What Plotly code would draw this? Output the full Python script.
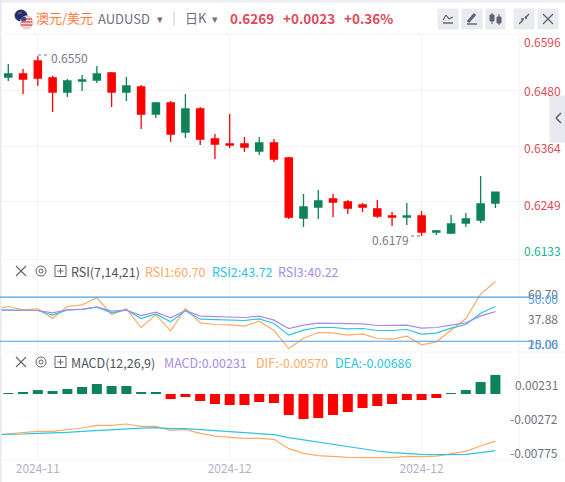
import plotly.graph_objects as go

W, H = 565, 482

# ---------------------------------------------------------------------------
# Data
# ---------------------------------------------------------------------------
OPEN = [0.65071, 0.65133, 0.65402, 0.65051, 0.64761, 0.64989, 0.65009, 0.65154, 0.64761, 0.64864,
        0.64306, 0.64534, 0.63934, 0.64410, 0.63790, 0.63686, 0.63686, 0.63542, 0.63707, 0.63397,
        0.62157, 0.62384, 0.62549, 0.62487, 0.62425, 0.62343, 0.62198, 0.62177, 0.62198, 0.61867,
        0.61847, 0.62053, 0.62115, 0.62467]
HIGH = [0.65340, 0.65237, 0.65500, 0.65092, 0.65030, 0.65113, 0.65299, 0.65175, 0.65071, 0.64906,
        0.64554, 0.64575, 0.64720, 0.64451, 0.63893, 0.64306, 0.63831, 0.63831, 0.63790, 0.63418,
        0.62653, 0.62735, 0.62653, 0.62529, 0.62467, 0.62529, 0.62281, 0.62467, 0.62301, 0.61909,
        0.62219, 0.62260, 0.63025, 0.62700]
LOW = [0.64989, 0.64720, 0.64885, 0.64348, 0.64658, 0.64782, 0.64947, 0.64451, 0.64575, 0.63996,
       0.64224, 0.63728, 0.63810, 0.63666, 0.63376, 0.63604, 0.63521, 0.63459, 0.63314, 0.62136,
       0.61971, 0.62136, 0.62177, 0.62239, 0.62281, 0.62157, 0.61991, 0.62012, 0.61785, 0.61805,
       0.61826, 0.61971, 0.62053, 0.62363]
CLOSE = [0.65133, 0.65030, 0.65051, 0.64761, 0.64989, 0.65009, 0.65133, 0.64761, 0.64885, 0.64306,
         0.64534, 0.63893, 0.64410, 0.63790, 0.63686, 0.63666, 0.63624, 0.63707, 0.63376, 0.62177,
         0.62384, 0.62508, 0.62487, 0.62363, 0.62384, 0.62198, 0.62177, 0.62198, 0.61867, 0.61888,
         0.62033, 0.62136, 0.62446, 0.62690]

# the indicator lines start one session before the first visible candle
RSI1 = [41.63, 43.67, 41.40, 42.08, 35.49, 43.67, 44.81, 49.58, 38.22, 42.08, 29.36, 37.99, 27.09,
        42.31, 32.54, 31.41, 31.18, 30.27, 33.68, 27.32, 15.06, 22.10, 25.96, 25.73, 24.14, 25.05,
        21.87, 21.42, 23.46, 17.55, 19.60, 27.77, 35.49, 52.07, 60.70]
RSI2 = [41.40, 41.40, 40.95, 40.95, 37.77, 41.40, 41.63, 43.22, 39.36, 41.40, 35.49, 38.67, 33.22,
        40.72, 35.04, 34.59, 34.36, 34.13, 35.27, 32.09, 24.14, 27.55, 29.36, 29.36, 28.46, 28.68,
        27.32, 27.32, 28.00, 24.82, 25.50, 28.91, 31.41, 39.13, 43.72]
RSI3 = [41.17, 41.17, 40.72, 40.95, 39.36, 41.40, 41.85, 43.44, 40.49, 41.17, 37.54, 39.81, 35.95,
        40.95, 37.08, 36.63, 36.40, 36.18, 37.08, 34.36, 28.68, 30.95, 32.32, 32.09, 31.63, 31.86,
        30.73, 30.73, 30.95, 28.91, 29.36, 30.95, 32.54, 37.31, 40.22]

HIST = [0.00004, 0.00024, 0.00048, 0.00036, 0.00061, 0.00085, 0.00121, 0.00097, 0.00097, 0.00024,
        0.00024, -0.00061, -0.00036, -0.00085, -0.00121, -0.00133, -0.00133, -0.00097, -0.00109,
        -0.00254, -0.00303, -0.00291, -0.00254, -0.00218, -0.00170, -0.00145, -0.00121, -0.00073,
        -0.00073, -0.00048, 0.00004, 0.00048, 0.00145, 0.00231]
DIF = [-0.00500, -0.00484, -0.00468, -0.00452, -0.00452, -0.00432, -0.00412, -0.00379, -0.00379,
       -0.00363, -0.00391, -0.00391, -0.00440, -0.00428, -0.00476, -0.00509, -0.00525, -0.00537,
       -0.00537, -0.00549, -0.00662, -0.00718, -0.00747, -0.00759, -0.00767, -0.00771, -0.00775,
       -0.00771, -0.00755, -0.00759, -0.00751, -0.00726, -0.00694, -0.00630, -0.00570]
DEA = [-0.00492, -0.00492, -0.00484, -0.00476, -0.00472, -0.00464, -0.00452, -0.00440, -0.00428,
       -0.00416, -0.00412, -0.00408, -0.00420, -0.00420, -0.00432, -0.00444, -0.00456, -0.00468,
       -0.00480, -0.00492, -0.00529, -0.00557, -0.00585, -0.00613, -0.00642, -0.00670, -0.00690,
       -0.00710, -0.00722, -0.00731, -0.00735, -0.00735, -0.00731, -0.00710, -0.00686]

SESSIONS = list(range(34))
LINE_SESSIONS = list(range(-1, 34))

PRICE_TICKS = [0.6596, 0.6480, 0.6364, 0.6249, 0.6133]
PRICE_LABELS = ["0.6596", "0.6480", "0.6364", "0.6249", "0.6133"]
DATE_TICKS = [2, 15, 28]
DATE_LABELS = ["2024-11", "2024-12", "2024-12"]
RSI_LEVELS = [50, 20]

# ---------------------------------------------------------------------------
# Palette
# ---------------------------------------------------------------------------
UP = "#0f8358"
DOWN = "#ff0000"
ORANGE = "#ffaa66"
CYAN = "#2cc5e0"
PURPLE = "#a88ce8"
LEVEL = "#4a9fe8"
GRID = "#f3f4f8"
TICK = "#6f7280"
RED_TEXT = "#dd4a5a"
BTN = "#e9ebf0"
ICON = "#5f6370"
FONT = "Noto Sans CJK SC, Noto Sans, sans-serif"

fig = go.Figure()


def px(x):
    return x / W


def py(y):
    return 1 - y / H


def label(x, y, text, color=TICK, size=12, anchor="left", bold=False):
    if bold:
        text = f"<b>{text}</b>"
    fig.add_annotation(xref="paper", yref="paper", x=px(x), y=py(y), text=text, showarrow=False,
                       xanchor=anchor, yanchor="middle", xshift=0, borderpad=0,
                       font=dict(color=color, size=size, family=FONT))


def seg(x0, y0, x1, y1, color=ICON, width=1.3, dash=None):
    fig.add_shape(type="line", xref="paper", yref="paper", x0=px(x0), y0=py(y0), x1=px(x1), y1=py(y1),
                  line=dict(color=color, width=width, dash=dash), layer="above")


def box(x0, y0, x1, y1, fill, line=None, kind="rect"):
    fig.add_shape(type=kind, xref="paper", yref="paper", x0=px(x0), y0=py(y0), x1=px(x1), y1=py(y1),
                  fillcolor=fill, line=dict(color=line or fill, width=1), layer="above")


# ---------------------------------------------------------------------------
# Traces
# ---------------------------------------------------------------------------
fig.add_trace(go.Candlestick(
    x=SESSIONS, open=OPEN, high=HIGH, low=LOW, close=CLOSE,
    increasing=dict(line=dict(color=UP, width=1.3), fillcolor=UP),
    decreasing=dict(line=dict(color=DOWN, width=1.3), fillcolor=DOWN),
    whiskerwidth=0, xaxis="x", yaxis="y", showlegend=False,
))
for values, color in [(RSI1, ORANGE), (RSI2, CYAN), (RSI3, PURPLE)]:
    fig.add_trace(go.Scatter(x=LINE_SESSIONS, y=values, mode="lines", line=dict(color=color, width=1.2),
                             xaxis="x2", yaxis="y2", showlegend=False))
fig.add_trace(go.Bar(x=SESSIONS, y=HIST, width=0.68, marker_line_width=0,
                     marker_color=[UP if v > 0 else DOWN for v in HIST],
                     xaxis="x3", yaxis="y3", showlegend=False))
for values, color in [(DIF, ORANGE), (DEA, CYAN)]:
    fig.add_trace(go.Scatter(x=LINE_SESSIONS, y=values, mode="lines", line=dict(color=color, width=1.2),
                             xaxis="x3", yaxis="y3", showlegend=False))

x_common = dict(range=[-0.562, 34.6], domain=[0, 519 / W], showgrid=True, gridcolor=GRID, gridwidth=1,
                zeroline=False, tickvals=DATE_TICKS, showline=False, ticks="")
y_common = dict(side="right", zeroline=False, showticklabels=False, ticks="")

fig.update_layout(
    width=W, height=H,
    margin=dict(l=0, r=0, t=0, b=0),
    paper_bgcolor="white", plot_bgcolor="white",
    font=dict(family=FONT, color=TICK, size=12),
    boxgap=0.3, bargap=0.3, showlegend=False,
    xaxis=dict(**x_common, anchor="y", showticklabels=False, rangeslider=dict(visible=False)),
    xaxis2=dict(**x_common, anchor="y2", showticklabels=False),
    xaxis3=dict(**x_common, anchor="y3", ticktext=DATE_LABELS, showticklabels=True,
                tickfont=dict(color="#b0b3c2", size=12, family=FONT)),
    yaxis=dict(**y_common, anchor="x", domain=[py(258), py(34)], range=[0.6133, 0.6596],
               tickvals=PRICE_TICKS, showgrid=True, gridcolor=GRID),
    yaxis2=dict(**y_common, anchor="x2", domain=[py(352), py(260)], range=[12.68, 75.35], showgrid=False),
    yaxis3=dict(**y_common, anchor="x3", domain=[py(460), py(352)], range=[-0.00799, 0.005085], showgrid=False),
)

# ---------------------------------------------------------------------------
# Frame lines and RSI levels
# ---------------------------------------------------------------------------
box(0, 0, W, 2, "#eceef4")
box(0, 0, 1, H, "#e6e9f3")
seg(0, 34, 519, 34, GRID, 1)
seg(0, 259.5, W, 259.5, GRID, 1)
seg(0, 352, W, 352, GRID, 1)
seg(0, 460, W, 460, GRID, 1)
seg(519, 34, 519, 460, GRID, 1)
for level in RSI_LEVELS:
    fig.add_shape(type="line", xref="paper", yref="y2", x0=0, x1=px(530), y0=level, y1=level,
                  line=dict(color=LEVEL, width=1.2), layer="above")

# ---------------------------------------------------------------------------
# Header
# ---------------------------------------------------------------------------
box(15, 10, 27, 21, "#1d2f6f", kind="circle")
box(20, 16, 33, 29, "#f3d6d8", line="#e9c3c6", kind="circle")
for y in (19, 22, 25):
    seg(21, y, 32, y, "#d9565f", 1.4)
box(21, 17, 26, 21, "#3a4a86", kind="circle")
seg(18, 13, 22, 13, "#d9565f", 1.2)

label(35, 18, "澳元/美元", "#ff7a3c", 13)
label(97, 18.5, "AUDUSD", "#6d7080", 13)
label(160, 18, "▾", "#6d7080", 11, "center")
seg(174, 12, 174, 26, "#c8cbd6", 1)
label(184, 18, "日K", "#6d7080", 13)
label(215, 18, "▾", "#6d7080", 11, "center")
label(229, 18, "0.6269", RED_TEXT, 13.5, bold=True)
label(282, 18, "+0.0023", RED_TEXT, 13.5, bold=True)
label(343, 18, "+0.36%", RED_TEXT, 13.5, bold=True)

for x0, x1 in [(438, 458), (462, 482), (486, 505), (514, 534), (538, 558)]:
    box(x0, 9, x1, 29, BTN)
# indicator icon
seg(443, 23, 453, 23, width=1.4)
for a, b, c, d in [(443, 20, 446, 15), (446, 15, 449, 19), (449, 19, 453, 17)]:
    seg(a, b, c, d, width=1.2)
# pencil icon
seg(467, 24, 477, 24, width=1.4)
seg(468, 22, 475, 14, width=3)
# candle icon
seg(492, 13, 492, 24, width=1)
seg(499, 14, 499, 25, width=1)
box(490, 15, 494, 21, ICON)
box(497, 17, 501, 23, ICON)
# shrink icon
seg(519, 24, 523, 20, width=1.5)
seg(525, 18, 529, 14, width=1.5)
seg(521, 19, 524, 19, width=1.5)
seg(526, 19, 526, 16, width=1.5)
# close icon
seg(543, 14, 553, 24, width=1.2)
seg(553, 14, 543, 24, width=1.2)

# ---------------------------------------------------------------------------
# Price axis labels, side tab, extremes
# ---------------------------------------------------------------------------
for text, y in zip(PRICE_LABELS[:4], [41, 90, 147, 204]):
    label(523, y, text, RED_TEXT)
label(523, 250, PRICE_LABELS[4], "#17b392")

box(550, 96, W, 142, "#e8e9f0")
seg(561, 113, 556, 118, ICON, 1.6)
seg(556, 118, 561, 123, ICON, 1.6)

label(50, 57, "0.6550", "#777a88")
seg(38, 55, 49, 55, "#777a88", 1, "dot")
label(371, 239, "0.6179", "#777a88")
seg(411, 236, 422, 236, "#777a88", 1, "dot")

# ---------------------------------------------------------------------------
# Indicator pane headers and labels
# ---------------------------------------------------------------------------


def pane_icons(y):
    seg(16, y - 5, 26, y + 5, width=1.1)
    seg(26, y - 5, 16, y + 5, width=1.1)
    box(36, y - 5, 46, y + 5, "white", line=ICON, kind="circle")
    box(39, y - 2, 43, y + 2, "white", line=ICON, kind="circle")
    box(55, y - 5.5, 66, y + 5.5, "white", line=ICON)
    seg(57.5, y, 63.5, y, width=1)
    seg(60.5, y - 3, 60.5, y + 3, width=1)


pane_icons(271)
label(70, 271, "RSI(7,14,21)", "#4f5260", 12.5)
label(144, 271, "RSI1:60.70", ORANGE, 12.5)
label(211, 271, "RSI2:43.72", CYAN, 12.5)
label(277, 271, "RSI3:40.22", PURPLE, 12.5)

label(559, 293, "60.70", anchor="right")
label(559, 318, "37.88", anchor="right")
label(559, 343, "15.06", anchor="right")
label(559, 298, "50.00", LEVEL, anchor="right")
label(559, 343, "20.00", LEVEL, anchor="right")

pane_icons(362)
label(70, 362, "MACD(12,26,9)", "#4f5260", 12.5)
label(163, 362, "MACD:0.00231", PURPLE, 12.5)
label(255, 362, "DIF:-0.00570", ORANGE, 12.5)
label(334, 362, "DEA:-0.00686", CYAN, 12.5)

label(559, 384, "0.00231", anchor="right")
label(559, 418, "-0.00272", anchor="right")
label(559, 452, "-0.00775", anchor="right")

fig.write_html("out.html", config=dict(displayModeBar=False),
               post_script="document.body.style.margin='0';document.body.style.overflow='hidden';")
